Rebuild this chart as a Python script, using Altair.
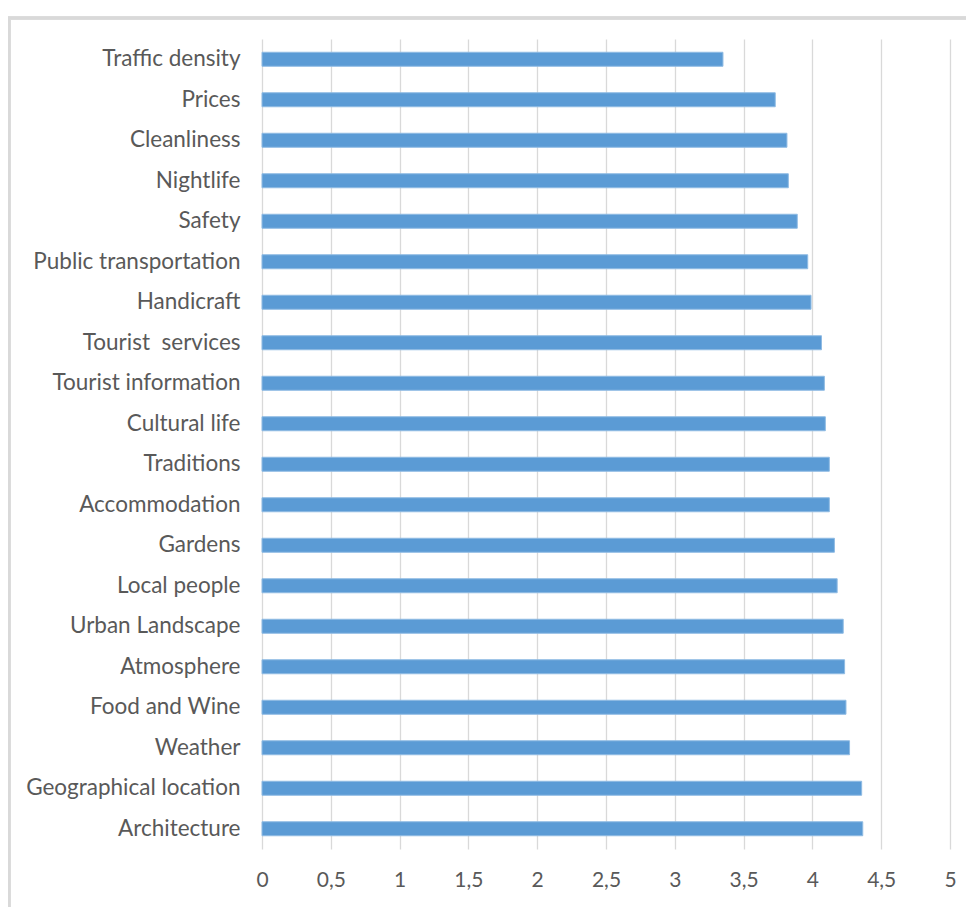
import altair as alt
import pandas as pd

categories = [
    "Traffic density", "Prices", "Cleanliness", "Nightlife", "Safety",
    "Public transportation", "Handicraft", "Tourist\u00a0 services", "Tourist information",
    "Cultural life", "Traditions", "Accommodation", "Gardens", "Local people",
    "Urban Landscape", "Atmosphere", "Food and Wine", "Weather",
    "Geographical location", "Architecture",
]
values = [
    3.35, 3.73, 3.815, 3.825, 3.89,
    3.966, 3.99, 4.066, 4.087,
    4.094, 4.123, 4.123, 4.16, 4.18,
    4.224, 4.234, 4.244, 4.27,
    4.358, 4.366,
]
x_ticks = [0, 0.5, 1, 1.5, 2, 2.5, 3, 3.5, 4, 4.5, 5]

df = pd.DataFrame({"category": categories, "value": values})

W, H = 688, 810

bars = alt.Chart(df).mark_bar(
    color="#5b9bd5", stroke="#8fbbe3", strokeWidth=1, size=14
).encode(
    x=alt.X("value:Q",
            scale=alt.Scale(domain=[0, 5], nice=False, zero=True),
            axis=alt.Axis(values=x_ticks, title=None, grid=True, gridColor="#d9d9d9",
                          gridWidth=1.3, domain=False, ticks=False, labelFlush=False,
                          labelExpr="replace(format(datum.value, ''), '.', ',')",
                          labelFont="Lato", labelFontSize=21, labelColor="#595959",
                          labelPadding=20)),
    y=alt.Y("category:N", sort=categories,
            scale=alt.Scale(paddingInner=0, paddingOuter=0),
            axis=alt.Axis(title=None, domain=False, ticks=False, grid=False,
                          labelFont="Lato", labelFontSize=22.5, labelColor="#595959",
                          labelPadding=22, labelLimit=400)),
)

frame_left = alt.Chart(df).mark_rule(color="#d9d9d9", strokeWidth=2.5).encode(
    x=alt.value(-253), y=alt.value(-22), y2=alt.value(H + 60)
)
frame_top = alt.Chart(df).mark_rule(color="#d9d9d9", strokeWidth=2.5).encode(
    x=alt.value(-254), x2=alt.value(W + 30), y=alt.value(-21)
)

chart = alt.layer(frame_left, frame_top, bars).properties(
    width=W, height=H,
    autosize=alt.AutoSizeParams(type="none"),
    padding={"left": 254, "top": 31, "right": 16, "bottom": 58},
).configure(background="white").configure_view(stroke=None)

chart.save("out.html", embed_options={"renderer": "svg", "actions": False})
